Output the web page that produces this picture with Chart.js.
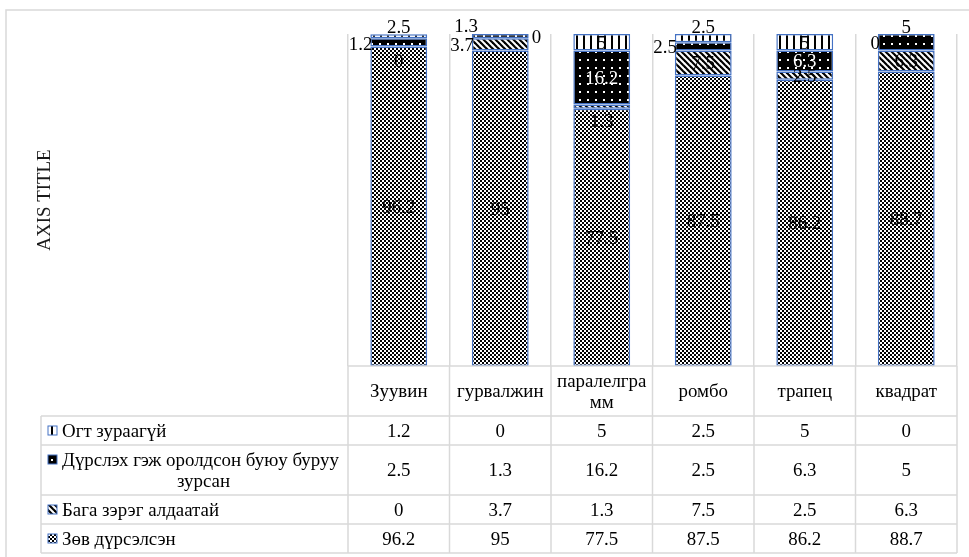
<!DOCTYPE html>
<html>
<head>
<meta charset="utf-8">
<script src="https://cdn.jsdelivr.net/npm/chart.js@4"></script>
<style>
  html, body { margin: 0; padding: 0; background: #ffffff; }
  canvas { display: block; }
</style>
</head>
<body>
<canvas id="chart" width="969" height="557"></canvas>
<script>
// Shapes that were drawn and the share (%) of each result
const categories = ['Зуувин', 'гурвалжин', 'паралелграмм', 'ромбо', 'трапец', 'квадрат'];
const seriesNames = ['Зөв дүрсэлсэн', 'Бага зэрэг алдаатай', 'Дүрслэх гэж оролдсон буюу буруу зурсан', 'Огт зураагүй'];
const correct = [96.2, 95, 77.5, 87.5, 86.2, 88.7];
const minorErrors = [0, 3.7, 1.3, 7.5, 2.5, 6.3];
const attemptedOrWrong = [2.5, 1.3, 16.2, 2.5, 6.3, 5];
const notDrawn = [1.2, 0, 5, 2.5, 5, 0];
const yAxisTitle = 'AXIS TITLE';

// Where each value label sits relative to its segment (bottom series first)
const labelPlacement = [
  ['center', 'center', 'center', 'center', 'center', 'center'],
  ['below', 'left', 'below', 'center', 'center', 'center'],
  ['above', 'aboveLeft', 'center', 'left', 'center', 'above'],
  ['left', 'right', 'center', 'above', 'center', 'left']
];

const FONT = '"Liberation Serif", "Times New Roman", serif';
const FONT_SIZE = 18.9;
const LINE_COLOR = '#d9d9d9';
const BAR_BORDER = '#4472c4';

const canvas = document.getElementById('chart');
const mainCtx = canvas.getContext('2d');

function makePattern(w, h, paint) {
  const c = document.createElement('canvas');
  c.width = w; c.height = h;
  const g = c.getContext('2d');
  paint(g, w, h);
  return mainCtx.createPattern(c, 'repeat');
}

const patterns = {
  checker: makePattern(4, 4, (g) => {
    g.fillStyle = '#ffffff'; g.fillRect(0, 0, 4, 4);
    g.fillStyle = '#000000'; g.fillRect(0, 0, 2, 2); g.fillRect(2, 2, 2, 2);
  }),
  diagonal: makePattern(6, 6, (g) => {
    g.fillStyle = '#ffffff'; g.fillRect(0, 0, 6, 6);
    g.strokeStyle = '#000000'; g.lineWidth = 2.2;
    for (const s of [-6, 0, 6]) {
      g.beginPath(); g.moveTo(s - 1, -1); g.lineTo(s + 7, 7); g.stroke();
    }
  }),
  dots: makePattern(8, 8, (g) => {
    g.fillStyle = '#000000'; g.fillRect(0, 0, 8, 8);
    g.fillStyle = '#ffffff'; g.fillRect(3, 3, 2, 2);
  }),
  vertical: makePattern(7, 7, (g) => {
    g.fillStyle = '#ffffff'; g.fillRect(0, 0, 7, 7);
    g.fillStyle = '#000000'; g.fillRect(2, 0, 2, 7);
  })
};

const seriesValues = [correct, minorErrors, attemptedOrWrong, notDrawn];
const seriesFills = [patterns.checker, patterns.diagonal, patterns.dots, patterns.vertical];

const datasets = seriesValues.map((vals, i) => ({
  label: seriesNames[i],
  data: vals,
  backgroundColor: seriesFills[i],
  borderColor: BAR_BORDER,
  borderWidth: 1.5,
  borderSkipped: false,
  barPercentage: 0.56,
  categoryPercentage: 1
}));

function textAt(ctx, text, x, cy, align, color) {
  ctx.textAlign = align;
  ctx.textBaseline = 'alphabetic';
  ctx.fillStyle = color;
  ctx.fillText(text, x, cy + FONT_SIZE * 0.33);
}

// Value labels on the stacked segments
const valueLabels = {
  id: 'valueLabels',
  afterDatasetsDraw(chart) {
    const ctx = chart.ctx;
    ctx.save();
    ctx.font = FONT_SIZE + 'px ' + FONT;
    const metas = chart.data.datasets.map((d, i) => chart.getDatasetMeta(i));
    categories.forEach((cat, i) => {
      let barTop = Infinity;
      metas.forEach(m => { barTop = Math.min(barTop, m.data[i].y, m.data[i].base); });
      metas.forEach((m, di) => {
        const bar = m.data[i];
        const v = chart.data.datasets[di].data[i];
        const top = Math.min(bar.y, bar.base), bottom = Math.max(bar.y, bar.base);
        const mid = (top + bottom) / 2;
        const half = bar.width / 2;
        const spot = labelPlacement[di][i];
        const txt = String(v);
        const dark = seriesFills[di] === patterns.dots && spot === 'center';
        const col = dark ? '#ffffff' : '#000000';
        if (spot === 'center') textAt(ctx, txt, bar.x, mid, 'center', col);
        else if (spot === 'below') textAt(ctx, txt, bar.x, mid + 14, 'center', col);
        else if (spot === 'above') textAt(ctx, txt, bar.x, barTop - 7.5, 'center', col);
        else if (spot === 'aboveLeft') textAt(ctx, txt, bar.x - half + 6, barTop - 8, 'right', col);
        else if (spot === 'left') textAt(ctx, txt, bar.x - half + 2, Math.max(mid, barTop + 9), 'right', col);
        else if (spot === 'right') textAt(ctx, txt, bar.x + half + 3, mid + 3, 'left', col);
      });
    });
    ctx.restore();
  }
};

function wrapText(ctx, text, maxWidth) {
  const words = text.split(' ');
  const lines = [];
  let line = '';
  for (const w of words) {
    const trial = line ? line + ' ' + w : w;
    if (ctx.measureText(trial).width <= maxWidth) { line = trial; continue; }
    if (line) { lines.push(line); line = ''; }
    if (ctx.measureText(w).width <= maxWidth) { line = w; continue; }
    let chunk = '';
    for (const ch of w) {
      if (ctx.measureText(chunk + ch).width > maxWidth && chunk) { lines.push(chunk); chunk = ch; }
      else chunk += ch;
    }
    line = chunk;
  }
  if (line) lines.push(line);
  return lines;
}

// Data table under the plot: category header plus one row per series
const dataTable = {
  id: 'dataTable',
  afterDraw(chart) {
    const ctx = chart.ctx;
    const area = chart.chartArea;
    const xs = chart.scales.x;
    const halfCol = (xs.getPixelForValue(1) - xs.getPixelForValue(0)) / 2;
    const LH = 21, PAD = 8;
    const legendLeft = 41, keyX = 48, textX = 62;
    const textRight = area.left - 3;
    ctx.save();
    ctx.font = FONT_SIZE + 'px ' + FONT;

    // outer frame
    ctx.strokeStyle = LINE_COLOR; ctx.lineWidth = 1.5;
    ctx.strokeRect(6, 10, chart.width + 10, chart.height + 10);

    // header row with category names
    const headerLines = categories.map(c => wrapText(ctx, c, halfCol * 2 - 8));
    const headerH = PAD + Math.max(...headerLines.map(l => l.length)) * LH;
    let y = area.bottom;
    categories.forEach((c, i) => {
      const cx = xs.getPixelForValue(i);
      const lines = headerLines[i];
      const cy = y + headerH / 2;
      lines.forEach((ln, k) => textAt(ctx, ln, cx, cy + (k - (lines.length - 1) / 2) * LH, 'center', '#000000'));
    });
    y += headerH;

    // series rows, top series first
    const order = [3, 2, 1, 0];
    const rowYs = [];
    order.forEach(si => {
      const lines = wrapText(ctx, seriesNames[si], textRight - textX);
      const h = PAD + lines.length * LH;
      const cy = y + h / 2;
      const firstY = cy - (lines.length - 1) / 2 * LH;
      // legend key
      ctx.fillStyle = seriesFills[si];
      ctx.fillRect(keyX, firstY - 4.5, 9, 9);
      ctx.strokeStyle = BAR_BORDER; ctx.lineWidth = 1;
      ctx.strokeRect(keyX, firstY - 4.5, 9, 9);
      lines.forEach((ln, k) => {
        if (k === 0) textAt(ctx, ln, textX, firstY, 'left', '#000000');
        else textAt(ctx, ln, (textX + textRight) / 2, firstY + k * LH, 'center', '#000000');
      });
      seriesValues[si].forEach((v, i) => textAt(ctx, String(v), xs.getPixelForValue(i), cy, 'center', '#000000'));
      rowYs.push(y);
      y += h;
    });
    rowYs.push(y);

    // grid lines of the table
    ctx.strokeStyle = LINE_COLOR; ctx.lineWidth = 1.5;
    ctx.beginPath();
    ctx.moveTo(area.left, area.bottom); ctx.lineTo(area.right, area.bottom);
    rowYs.forEach(ry => { ctx.moveTo(legendLeft, ry); ctx.lineTo(area.right, ry); });
    for (let i = 0; i <= categories.length; i++) {
      const bx = i < categories.length ? xs.getPixelForValue(i) - halfCol : xs.getPixelForValue(i - 1) + halfCol;
      ctx.moveTo(bx, area.bottom); ctx.lineTo(bx, y);
    }
    ctx.moveTo(legendLeft, rowYs[0]); ctx.lineTo(legendLeft, y);
    ctx.stroke();
    ctx.restore();
  }
};

new Chart(mainCtx, {
  type: 'bar',
  data: { labels: categories, datasets },
  options: {
    responsive: false,
    animation: false,
    devicePixelRatio: 1,
    layout: { padding: { left: 6, top: 34, right: 12, bottom: 191 } },
    plugins: { legend: { display: false }, tooltip: { enabled: false } },
    scales: {
      x: {
        stacked: true,
        offset: true,
        grid: { offset: true, color: LINE_COLOR, lineWidth: 1.5, drawTicks: false },
        border: { display: false },
        ticks: { display: false },
        afterFit(s) { s.height = 0; }
      },
      y: {
        stacked: true,
        min: 0,
        max: 100,
        grid: { display: false },
        border: { display: false },
        ticks: { display: false },
        title: {
          display: true,
          text: yAxisTitle,
          color: '#1a1a1a',
          font: { family: FONT, size: FONT_SIZE },
          padding: { top: 28, bottom: 0 }
        },
        afterFit(s) { s.width = 342; }
      }
    }
  },
  plugins: [valueLabels, dataTable]
});
</script>
</body>
</html>
